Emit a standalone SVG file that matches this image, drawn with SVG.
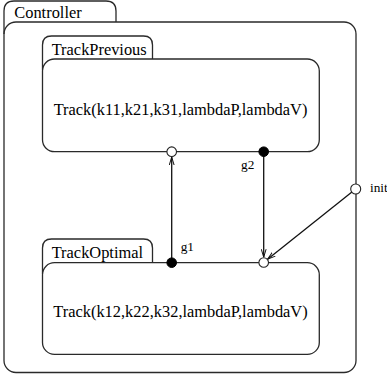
<svg xmlns="http://www.w3.org/2000/svg" width="387" height="374" viewBox="0 0 387 374">
<defs>
<style>
.box{fill:none;stroke:#2a2a2a;stroke-width:1.3}
.lbl{font-family:'Liberation Serif','Times New Roman',Times,'DejaVu Serif',serif;font-size:16.4px;fill:#000}
.sm{font-family:'Liberation Serif','Times New Roman',Times,'DejaVu Serif',serif;font-size:13.3px;fill:#000}
.edge{fill:none;stroke:#111;stroke-width:1.3}
.open{fill:#fff;stroke:#222;stroke-width:1.1}
.full{fill:#000;stroke:#000;stroke-width:1}
</style>
<marker id="ah" markerUnits="userSpaceOnUse" viewBox="0 0 8 6" refX="8" refY="3" markerWidth="8" markerHeight="6" orient="auto">
<path d="M0,0.6 L8,3 L0,5.4" fill="none" stroke="#111" stroke-width="1"/>
</marker>
</defs>
<rect width="387" height="374" fill="#fff"/>
<g id="Controller">
<path class="box" d="M4,34 L4,11 Q4,1 14,1 L106,1 Q116,1 116,11 L116,22"/>
<rect class="box" x="4" y="22" width="352" height="350.5" rx="12"/>
<text class="lbl" font-family="Liberation Serif, serif" x="14.3" y="18.3">Controller</text>
</g>
<g id="TrackPrevious">
<path class="box" d="M42.5,70 L42.5,45 Q42.5,36 51.5,36 L143.5,36 Q152.5,36 152.5,45 L152.5,59"/>
<rect class="box" x="42.5" y="59" width="276.8" height="92.7" rx="12"/>
<text class="lbl" font-family="Liberation Serif, serif" x="51.7" y="55">TrackPrevious</text>
<text class="lbl" font-family="Liberation Serif, serif" x="180.5" y="115" text-anchor="middle">Track(k11,k21,k31,lambdaP,lambdaV)</text>
</g>
<g id="TrackOptimal">
<path class="box" d="M42.5,274 L42.5,248 Q42.5,239 51.5,239 L143.5,239 Q152.5,239 152.5,248 L152.5,262.7"/>
<rect class="box" x="42.5" y="262.7" width="276.8" height="91.7" rx="12"/>
<text class="lbl" font-family="Liberation Serif, serif" x="51.7" y="257.7">TrackOptimal</text>
<text class="lbl" font-family="Liberation Serif, serif" x="180.5" y="316.7" text-anchor="middle">Track(k12,k22,k32,lambdaP,lambdaV)</text>
</g>
<g id="connectors">
<line class="edge" x1="171.7" y1="262.7" x2="171.7" y2="157" marker-end="url(#ah)"/>
<line class="edge" x1="263.7" y1="151.7" x2="263.7" y2="257.2" marker-end="url(#ah)"/>
<line class="edge" x1="355.7" y1="189" x2="267.6" y2="259.2" marker-end="url(#ah)"/>
<circle class="open" cx="171.7" cy="151.7" r="4.8"/>
<circle class="full" cx="263.7" cy="151.7" r="4.8"/>
<circle class="full" cx="171.7" cy="262.7" r="4.8"/>
<circle class="open" cx="263.7" cy="262.5" r="4.8"/>
<circle class="open" cx="355.7" cy="189" r="5"/>
<text class="sm" font-family="Liberation Serif, serif" x="241" y="169.3">g2</text>
<text class="sm" font-family="Liberation Serif, serif" x="180.7" y="250.7">g1</text>
<text class="sm" font-family="Liberation Serif, serif" x="370" y="192">init</text>
</g>
</svg>
